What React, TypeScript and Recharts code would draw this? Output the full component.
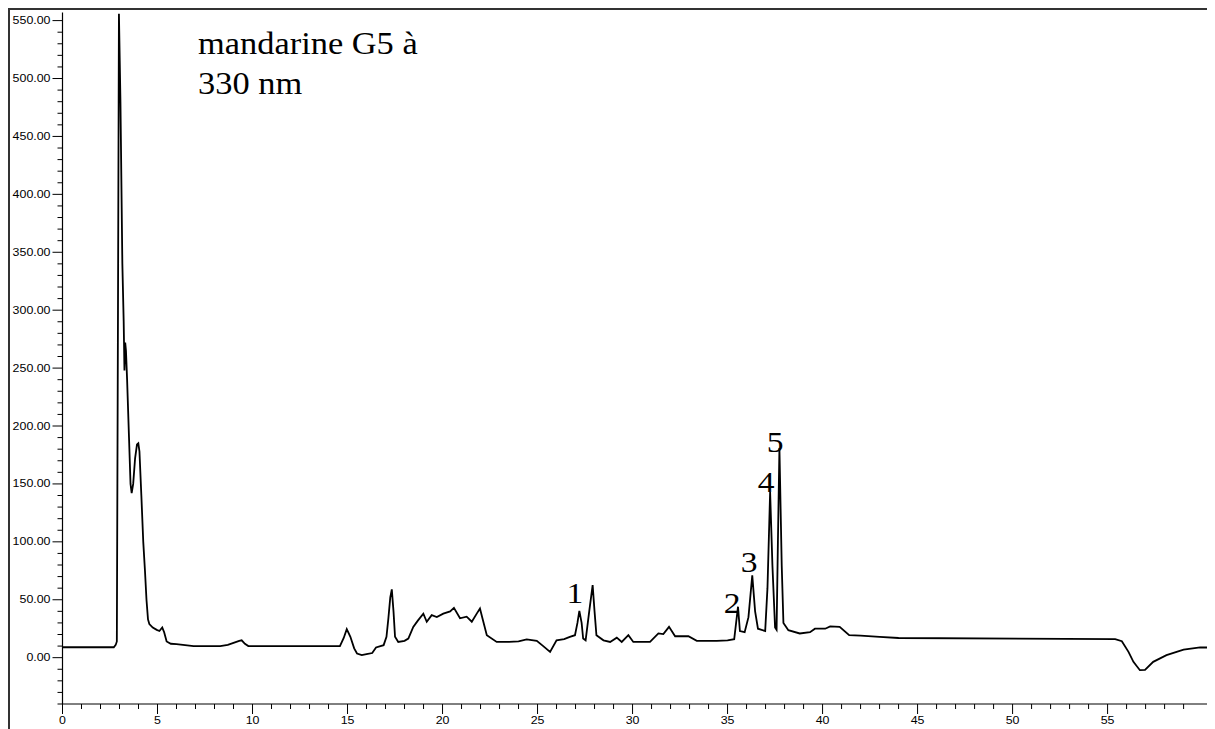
import React from 'react';
import { LineChart, Line, XAxis, YAxis, ReferenceDot } from 'recharts';

// Retention time (min)
const times = [
  0, 2.7, 2.8, 2.86, 2.92, 2.97, 3.05, 3.15, 3.22, 3.26, 3.3, 3.34, 3.4, 3.5, 3.58, 3.64, 3.72, 3.82, 3.92, 3.99,
  4.05, 4.15, 4.25, 4.34, 4.42, 4.5, 4.57, 4.75, 4.96, 5.1, 5.25, 5.35, 5.48, 5.7, 6.0, 6.9, 8.3, 8.7, 9.0, 9.3,
  9.43, 9.6, 9.78, 14.6, 14.8, 14.96, 15.15, 15.35, 15.5, 15.75, 16.0, 16.3, 16.5, 16.9, 17.05, 17.15, 17.25, 17.33, 17.42, 17.5,
  17.67, 18.0, 18.2, 18.46, 18.7, 18.99, 19.17, 19.43, 19.7, 20.04, 20.4, 20.6, 20.92, 21.27, 21.54, 21.8, 21.97, 22.1, 22.33, 22.85,
  23.5, 24.0, 24.43, 24.96, 25.3, 25.66, 26.0, 26.4, 26.7, 26.97, 27.1, 27.2, 27.32, 27.4, 27.53, 27.72, 27.9, 28.0, 28.1, 28.47,
  28.82, 29.17, 29.43, 29.78, 30.04, 30.92, 31.36, 31.62, 31.92, 32.24, 32.94, 33.38, 34.43, 35.0, 35.35, 35.45, 35.55, 35.65, 35.9, 36.1,
  36.3, 36.45, 36.6, 36.98, 37.1, 37.24, 37.36, 37.5, 37.58, 37.65, 37.73, 37.85, 37.94, 38.2, 38.8, 39.34, 39.6, 39.78, 40.14, 40.4,
  40.9, 41.4, 42, 43, 44, 55.4, 55.75, 56.1, 56.36, 56.7, 56.97, 57.4, 58.1, 59.0, 59.87, 60.6,
];

// Absorbance at 330 nm
const absorbance = [
  9, 9, 11, 14, 300, 556, 480, 340, 290, 248, 272, 265, 240, 190, 150, 142, 150, 172, 184, 185,
  178, 140, 100, 75, 50, 33, 29, 26, 24, 23, 26, 22, 14, 12, 11.7, 10, 10, 11, 12.8, 14.5,
  15, 12, 10, 10, 17, 24.6, 18, 8, 3.6, 2.2, 3, 4, 8.8, 10.8, 18, 34, 52, 59, 40, 18,
  13.6, 14.5, 16.5, 26.6, 32, 38, 31, 36.7, 35, 38, 40, 43, 34, 35.4, 31, 38, 42.5, 34, 19.4, 13.6,
  13.6, 14, 15.7, 14.5, 10, 5, 15, 16, 18, 19.4, 30, 40.4, 30, 16.5, 15, 40, 62.6, 40, 19.4, 15,
  13.6, 17.3, 13.6, 19.4, 13.6, 13.6, 20.9, 20.3, 26.6, 18.5, 18.5, 14.5, 14.5, 15, 16, 30, 44, 23, 22, 35,
  71, 40, 25, 23, 60, 143, 80, 26, 24, 100, 181, 80, 30, 23.7, 20.9, 22, 25, 25, 25, 27,
  26.6, 19.4, 19, 18, 17, 16, 14.2, 5, -3.6, -10.8, -10.5, -3.6, 2.2, 7, 8.8, 8.8,
];

const xTicks = Array.from({ length: 60 }, (_, i) => i);
const yTicks = Array.from({ length: 60 }, (_, i) => -40 + i * 10);

const peakLabels = ['1', '2', '3', '4', '5'];
const peakLabelX = [26.97, 35.24, 36.13, 37.03, 37.5];
const peakLabelY = [47, 38.4, 73.8, 143, 177.5];

const titleLines = ['mandarine G5 à', '330 nm'];

const data = times.map((t, i) => ({ x: t, y: absorbance[i] }));

const SANS = '"Liberation Sans", Arial, sans-serif';
const SERIF = '"Liberation Serif", "Times New Roman", serif';

const YTick = (props: any) => {
  const { x, y, payload } = props;
  const v = payload.value as number;
  const major = v % 50 === 0;
  return (
    <g>
      <line x1={x - (major ? 10 : 5)} x2={x} y1={y} y2={y} stroke="#000" strokeWidth={1} />
      {major && v >= 0 && (
        <text
          transform={`translate(${x - 12},${y + 3.5}) scale(1.24,1)`}
          textAnchor="end"
          fontSize={10}
          fontFamily={SANS}
          fill="#000"
        >
          {v.toFixed(2)}
        </text>
      )}
    </g>
  );
};

const XTick = (props: any) => {
  const { x, y, payload } = props;
  const v = payload.value as number;
  const major = v % 5 === 0;
  return (
    <g>
      <line x1={x} x2={x} y1={y} y2={y + (major ? 10 : 5)} stroke="#000" strokeWidth={1} />
      {major && (
        <text
          transform={`translate(${x},${y + 20}) scale(1.24,1)`}
          textAnchor="middle"
          fontSize={10}
          fontFamily={SANS}
          fill="#000"
        >
          {String(v)}
        </text>
      )}
    </g>
  );
};

const PeakLabel = (text: string) => (p: any) => (
  <text
    transform={`translate(${p.cx},${p.cy}) scale(1.12,1)`}
    textAnchor="middle"
    fontSize={30}
    fontFamily={SERIF}
    fill="#000"
  >
    {text}
  </text>
);

export default function App() {
  return (
    <div style={{ position: 'relative', width: 1207, height: 721 }}>
      <LineChart
        width={1207}
        height={721}
        data={data}
        margin={{ top: 4.5, right: 1, left: 0, bottom: 0 }}
      >
        <XAxis
          type="number"
          dataKey="x"
          domain={[0, 60.6]}
          ticks={xTicks}
          interval={0}
          height={25}
          tickSize={0}
          tickMargin={0}
          tickLine={false}
          tick={<XTick />}
          axisLine={{ stroke: '#000', strokeWidth: 1 }}
        />
        <YAxis
          type="number"
          domain={[-40, 557]}
          ticks={yTicks}
          interval={0}
          width={54.5}
          tickSize={0}
          tickMargin={0}
          tickLine={false}
          tick={<YTick />}
          axisLine={{ stroke: '#000', strokeWidth: 1.2 }}
        />
        <Line
          type="linear"
          dataKey="y"
          stroke="#000"
          strokeWidth={1.8}
          dot={false}
          activeDot={false}
          isAnimationActive={false}
        />
        {peakLabels.map((lab, i) => (
          <ReferenceDot
            key={lab}
            x={peakLabelX[i]}
            y={peakLabelY[i]}
            r={0}
            shape={PeakLabel(lab)}
          />
        ))}
      </LineChart>
      <svg
        width={1207}
        height={721}
        style={{ position: 'absolute', left: 0, top: 0, pointerEvents: 'none' }}
      >
        {titleLines.map((line, i) => (
          <text
            key={i}
            transform={`translate(190,${46 + i * 40}) scale(1.11,1)`}
            fontSize={31}
            fontFamily={SERIF}
            fill="#000"
          >
            {line}
          </text>
        ))}
      </svg>
      <div
        style={{
          position: 'absolute',
          left: 0,
          top: 0,
          width: 1207,
          height: 721,
          boxSizing: 'border-box',
          borderTop: '2px solid #333',
          borderLeft: '2px solid #333',
          pointerEvents: 'none',
        }}
      />
    </div>
  );
}
